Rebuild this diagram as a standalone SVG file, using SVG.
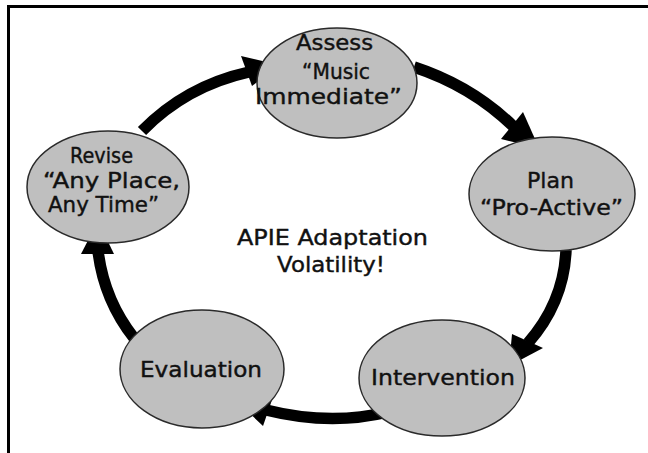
<svg xmlns="http://www.w3.org/2000/svg" width="648" height="453" viewBox="0 0 648 453">
<style>
.node ellipse{fill:#bfbfbf;stroke:#2a2a2a;stroke-width:1.5}
text{font-family:"DejaVu Sans","Verdana",sans-serif;font-size:21px;fill:#111;stroke:#111;stroke-width:0.4}
.arc{fill:none;stroke:#000;stroke-width:11.5}
.head{fill:#000}
.frame{stroke:#000;stroke-width:3;fill:none}
</style>
<rect width="648" height="453" fill="#fff"/>
<path class="frame" d="M8.5,453 V6.5 H648"/>
<g id="connectors">
<path class="arc" d="M414,67 Q472,86 514,127"/>
<polygon class="head" points="539,148 523,112 501,139"/>
<path class="arc" d="M566,250 Q564,302 528,343"/>
<polygon class="head" points="509,366 512,334 543,348"/>
<path class="arc" d="M388,412 Q330,426 266,410"/>
<polygon class="head" points="239,403 273,397 263,426"/>
<path class="arc" d="M134,338 Q104,300 98,251"/>
<polygon class="head" points="98,221 81,254 114,254"/>
<path class="arc" d="M142,131 Q186,86 249,72"/>
<polygon class="head" points="279,65 241,56 252,86"/>
</g>
<g id="assess" class="node">
<ellipse cx="337" cy="83" rx="80" ry="55"/>
<text x="296" y="50" textLength="77" lengthAdjust="spacingAndGlyphs">Assess</text>
<text x="302" y="79" textLength="68" lengthAdjust="spacingAndGlyphs">“Music</text>
<text x="255" y="104" textLength="147" lengthAdjust="spacingAndGlyphs">Immediate”</text>
</g>
<g id="plan" class="node">
<ellipse cx="552" cy="194" rx="83" ry="57"/>
<text x="527" y="188" textLength="47" lengthAdjust="spacingAndGlyphs">Plan</text>
<text x="480" y="215" textLength="143" lengthAdjust="spacingAndGlyphs">“Pro-Active”</text>
</g>
<g id="intervention" class="node">
<ellipse cx="442" cy="378" rx="83" ry="58"/>
<text x="371" y="385" textLength="144" lengthAdjust="spacingAndGlyphs">Intervention</text>
</g>
<g id="evaluation" class="node">
<ellipse cx="202" cy="369" rx="82" ry="59"/>
<text x="140" y="377" textLength="122" lengthAdjust="spacingAndGlyphs">Evaluation</text>
</g>
<g id="revise" class="node">
<ellipse cx="108" cy="187" rx="81" ry="56"/>
<text x="70" y="163" textLength="63" lengthAdjust="spacingAndGlyphs">Revise</text>
<text x="43" y="188" textLength="137" lengthAdjust="spacingAndGlyphs">“Any Place,</text>
<text x="48" y="212" textLength="111" lengthAdjust="spacingAndGlyphs">Any Time”</text>
</g>
<g id="center-label">
<text x="237" y="245" textLength="191" lengthAdjust="spacingAndGlyphs">APIE Adaptation</text>
<text x="277" y="272" textLength="108" lengthAdjust="spacingAndGlyphs">Volatility!</text>
</g>
</svg>
